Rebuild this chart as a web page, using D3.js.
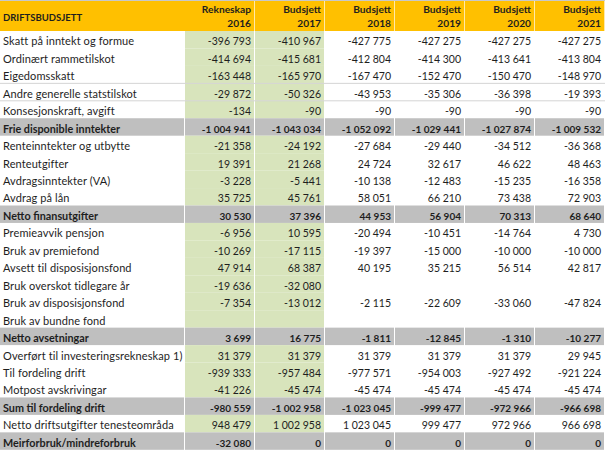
<!DOCTYPE html>
<html><head><meta charset="utf-8">
<script src="https://cdn.jsdelivr.net/npm/d3@7"></script>
<style>
html,body{margin:0;padding:0;background:#fff;}
svg{display:block;}
text{font-family:Lato, "Liberation Sans", sans-serif;fill:#1e1e1e;}
</style></head><body>
<svg id="c" width="605" height="452"></svg>
<script>
const title = "DRIFTSBUDSJETT";
const headTop = ["Rekneskap","Budsjett","Budsjett","Budsjett","Budsjett","Budsjett"];
const years = ["2016","2017","2018","2019","2020","2021"];
const labels = [
 "Skatt på inntekt og formue","Ordinært rammetilskot","Eigedomsskatt","Andre generelle statstilskot","Konsesjonskraft, avgift",
 "Frie disponible inntekter","Renteinntekter og utbytte","Renteutgifter","Avdragsinntekter (VA)","Avdrag på lån",
 "Netto finansutgifter","Premieavvik pensjon","Bruk av premiefond","Avsett til disposisjonsfond","Bruk overskot tidlegare år",
 "Bruk av disposisjonsfond","Bruk av bundne fond","Netto avsetningar","Overført til investeringsrekneskap 1)","Til fordeling drift",
 "Motpost avskrivingar","Sum til fordeling drift","Netto driftsutgifter tenesteområda","Meirforbruk/mindreforbruk"];
const totalRows = [5,10,17,21,23];
const y2016 = [-396793,-414694,-163448,-29872,-134,-1004941,-21358,19391,-3228,35725,30530,-6956,-10269,47914,-19636,-7354,null,3699,31379,-939333,-41226,-980559,948479,-32080];
const y2017 = [-410967,-415681,-165970,-50326,-90,-1043034,-24192,21268,-5441,45761,37396,10595,-17115,68387,-32080,-13012,null,16775,31379,-957484,-45474,-1002958,1002958,0];
const y2018 = [-427775,-412804,-167470,-43953,-90,-1052092,-27684,24724,-10138,58051,44953,-20494,-19397,40195,null,-2115,null,-1811,31379,-977571,-45474,-1023045,1023045,0];
const y2019 = [-427275,-414300,-152470,-35306,-90,-1029441,-29440,32617,-12483,66210,56904,-10451,-15000,35215,null,-22609,null,-12845,31379,-954003,-45474,-999477,999477,0];
const y2020 = [-427275,-413641,-150470,-36398,-90,-1027874,-34512,46622,-15235,73438,70313,-14764,-10000,56514,null,-33060,null,-1310,31379,-927492,-45474,-972966,972966,0];
const y2021 = [-427275,-413804,-148970,-19393,-90,-1009532,-36368,48463,-16358,72903,68640,4730,-10000,42817,null,-47824,null,-10277,29945,-921224,-45474,-966698,966698,0];
const series = [y2016,y2017,y2018,y2019,y2020,y2021];

const W = 605, H = 452;
const svg = d3.select("#c");
const loc = d3.formatLocale({decimal:",", thousands:" ", grouping:[3], currency:["",""], minus:"-"});
const fmt = loc.format(",d");

const x = d3.scaleBand().domain(years).range([185, 605]);
const y = d3.scaleBand().domain(d3.range(labels.length)).range([31, 449.8]);
const ORANGE = "#FFC000", GREEN = "#D8E4BC", GREY = "#BFBFBF";

// header
svg.append("rect").attr("x",0).attr("y",0).attr("width",W).attr("height",31).attr("fill",ORANGE);
svg.append("line").attr("x1",0).attr("x2",W).attr("y1",0.5).attr("y2",0.5).attr("stroke","#c8c8c8");
svg.selectAll("line.hsep").data(years).join("line").attr("class","hsep")
  .attr("x1",d=>x(d)+x.bandwidth()-0.5).attr("x2",d=>x(d)+x.bandwidth()-0.5)
  .attr("y1",1).attr("y2",31).attr("stroke","#ffe9a8").attr("stroke-width",1);
svg.append("text").attr("x",3).attr("y",21).attr("font-size",9.5).attr("font-weight","bold").text(title);
years.forEach((yr,i)=>{
  const tx = x(yr)+x.bandwidth()-4;
  svg.append("text").attr("x",tx).attr("y",13).attr("text-anchor","end").attr("font-size",10.2).attr("font-weight","bold").text(headTop[i]);
  svg.append("text").attr("x",tx).attr("y",27).attr("text-anchor","end").attr("font-size",10.2).attr("font-weight","bold").text(yr);
});

// body cells
const rows = svg.selectAll("g.row").data(labels).join("g").attr("class","row")
  .attr("transform",(d,i)=>`translate(0,${y(i)})`);
const h = y.bandwidth();
rows.each(function(lab,i){
  const g = d3.select(this);
  const tot = totalRows.includes(i);
  if (tot) g.append("rect").attr("x",0).attr("y",0).attr("width",184).attr("height",h).attr("fill",GREY);
  years.forEach((yr,j)=>{
    let fill = tot ? GREY : (j<2 ? GREEN : null);
    if (fill) g.append("rect").attr("x",x(yr)).attr("y",0).attr("width",x.bandwidth()-1).attr("height",h).attr("fill",fill);
  });
  g.append("text").attr("x",3).attr("y",h-3).attr("font-size",tot?10.8:11).attr("letter-spacing",tot?0:0.1)
    .attr("font-weight",tot?"bold":"normal").text(lab);
  years.forEach((yr,j)=>{
    const v = series[j][i];
    if (v===null) return;
    g.append("text").attr("x",x(yr)+x.bandwidth()-4).attr("y",h-3).attr("text-anchor","end")
      .attr("font-size",tot?10:10.5).attr("font-weight",tot?"bold":"normal").text(fmt(v));
  });
});
// light row borders
[2,3].forEach(i=>{
  svg.append("line").attr("x1",0).attr("x2",W).attr("y1",y(i)+h).attr("y2",y(i)+h).attr("stroke","#d4d4d4");
});
</script></body></html>
